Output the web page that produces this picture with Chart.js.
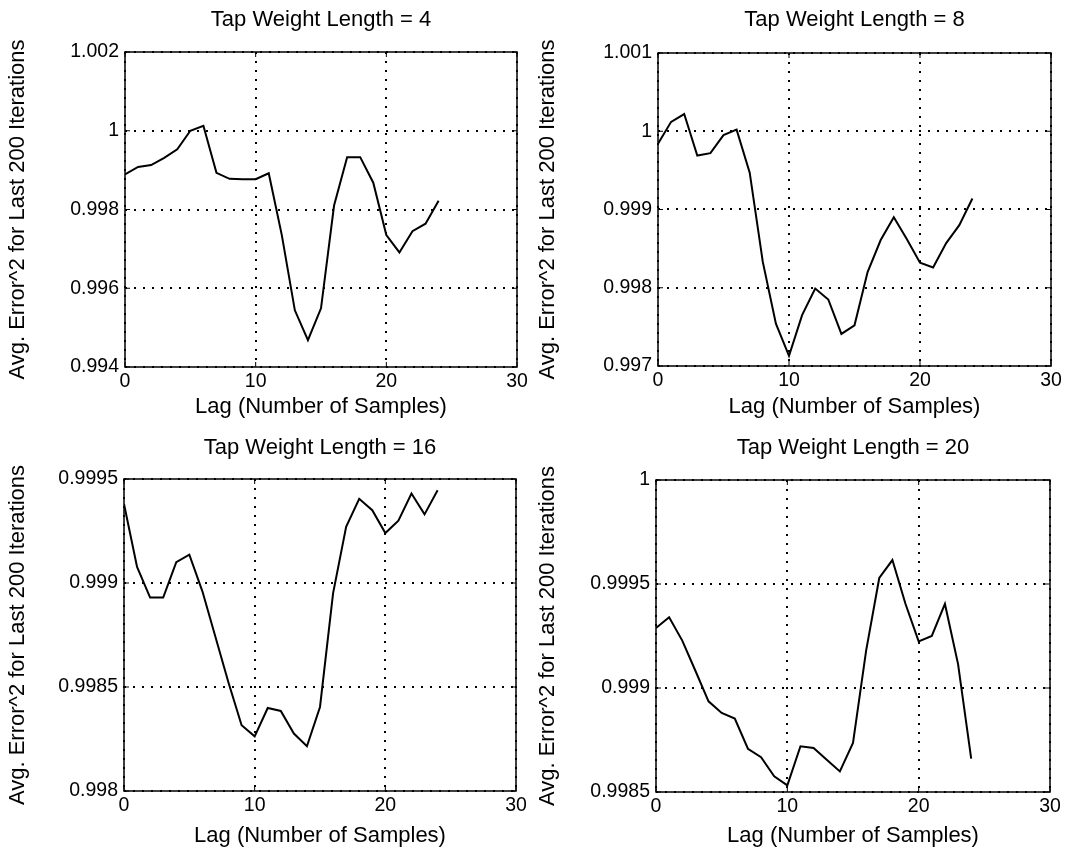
<!DOCTYPE html>
<html>
<head>
<meta charset="utf-8">
<script src="https://cdn.jsdelivr.net/npm/chart.js@4"></script>
<style>
  html, body { margin: 0; padding: 0; background: #fff; }
  #wrap { position: relative; width: 1070px; height: 861px; }
  canvas { position: absolute; }
</style>
</head>
<body>
<div id="wrap">
  <canvas id="c1"></canvas>
  <canvas id="c2"></canvas>
  <canvas id="c3"></canvas>
  <canvas id="c4"></canvas>
</div>
<script>
// lag values (number of samples)
const lags = [0, 1, 2, 3, 4, 5, 6, 7, 8, 9, 10, 11, 12, 13, 14, 15, 16, 17, 18, 19, 20, 21, 22, 23, 24];

// avg error^2 for last 200 iterations, per tap weight length
const err4 = [0.99889, 0.99908, 0.99913, 0.99931, 0.99953, 1.00000, 1.000125, 0.99893, 0.99878, 0.99877,
              0.99877, 0.99892, 0.99735, 0.99544, 0.99468, 0.99549, 0.99810, 0.99933, 0.99933, 0.99868,
              0.99735, 0.99691, 0.99745, 0.99764, 0.99822];
const err8 = [0.99984, 1.00012, 1.00022, 0.99969, 0.99972, 0.99995, 1.00002, 0.99947, 0.99833, 0.99754,
              0.99713, 0.99765, 0.99799, 0.99785, 0.99741, 0.99752, 0.99820, 0.99861, 0.99890, 0.99862,
              0.99832, 0.99826, 0.99857, 0.99880, 0.99914];
const err16 = [0.99938, 0.999077, 0.99893, 0.99893, 0.99910, 0.999136, 0.99896, 0.99874, 0.99852, 0.998316,
               0.998263, 0.998399, 0.998385, 0.998276, 0.998215, 0.998404, 0.99895, 0.99927, 0.999405, 0.99935,
               0.99924, 0.99930, 0.99943, 0.99933, 0.999446];
const err20 = [0.999288, 0.99934, 0.999228, 0.999083, 0.998936, 0.99888, 0.998853, 0.998708, 0.998667, 0.998575,
               0.998532, 0.99872, 0.998712, 0.998655, 0.998599, 0.998736, 0.99918, 0.999529, 0.999615, 0.999404,
               0.999224, 0.99925, 0.999404, 0.999115, 0.99866];

// tick values and labels
const xTicks = [0, 10, 20, 30];
const xLabels = ['0', '10', '20', '30'];
const yTicks4 = [0.994, 0.996, 0.998, 1, 1.002];
const yLabels4 = ['0.994', '0.996', '0.998', '1', '1.002'];
const yTicks8 = [0.997, 0.998, 0.999, 1, 1.001];
const yLabels8 = ['0.997', '0.998', '0.999', '1', '1.001'];
const yTicks16 = [0.998, 0.9985, 0.999, 0.9995];
const yLabels16 = ['0.998', '0.9985', '0.999', '0.9995'];
const yTicks20 = [0.9985, 0.999, 0.9995, 1];
const yLabels20 = ['0.9985', '0.999', '0.9995', '1'];

const titles = ['Tap Weight Length = 4', 'Tap Weight Length = 8', 'Tap Weight Length = 16', 'Tap Weight Length = 20'];
const xTitle = 'Lag (Number of Samples)';
const yTitle = 'Avg. Error^2 for Last 200 Iterations';

const FONT = "'Liberation Sans', Arial, Helvetica, sans-serif";

// draws the box around the plot and the small inward tick marks
const boxPlugin = {
    id: 'box',
    afterDraw(chart) {
        const {ctx, chartArea: a, scales} = chart;
        ctx.save();
        ctx.strokeStyle = '#000';
        ctx.lineWidth = 1.5;
        ctx.strokeRect(a.left, a.top, a.right - a.left, a.bottom - a.top);
        ctx.lineWidth = 1;
        ctx.beginPath();
        scales.x.ticks.forEach(t => {
            const px = scales.x.getPixelForValue(t.value);
            ctx.moveTo(px, a.bottom); ctx.lineTo(px, a.bottom - 5);
            ctx.moveTo(px, a.top); ctx.lineTo(px, a.top + 5);
        });
        scales.y.ticks.forEach(t => {
            const py = scales.y.getPixelForValue(t.value);
            ctx.moveTo(a.left, py); ctx.lineTo(a.left + 5, py);
            ctx.moveTo(a.right, py); ctx.lineTo(a.right - 5, py);
        });
        ctx.stroke();
        ctx.restore();
    }
};

function makePanel(id, pos, title, values, yTicks, yLabels) {
    const canvas = document.getElementById(id);
    canvas.width = pos.w;
    canvas.height = pos.h;
    canvas.style.left = pos.left + 'px';
    canvas.style.top = pos.top + 'px';

    const grid = {
        color: '#000',
        lineWidth: 2,
        drawTicks: false
    };
    // in v4 the dash of the grid lines lives under border
    const border = { display: false, dash: [2, 7] };

    return new Chart(canvas, {
        type: 'line',
        data: {
            datasets: [{
                data: lags.map((l, i) => ({x: l, y: values[i]})),
                borderColor: '#000',
                borderWidth: 2,
                pointRadius: 0,
                tension: 0,
                fill: false
            }]
        },
        options: {
            responsive: false,
            animation: false,
            devicePixelRatio: 1,
            layout: { padding: { left: 0, right: pos.padRight, top: 0, bottom: 0 } },
            plugins: {
                legend: { display: false },
                tooltip: { enabled: false },
                title: {
                    display: true,
                    text: title,
                    color: '#000',
                    fullSize: false,
                    font: { family: FONT, size: 22, weight: 'normal' },
                    padding: { top: pos.titleTop, bottom: pos.titleBottom }
                }
            },
            scales: {
                x: {
                    type: 'linear',
                    min: 0,
                    max: 30,
                    grid: grid,
                    border: border,
                    afterBuildTicks: s => { s.ticks = xTicks.map(v => ({value: v})); },
                    afterFit: s => { s.height = pos.xHeight; },
                    ticks: {
                        color: '#000',
                        padding: 3,
                        maxRotation: 0,
                        font: { family: FONT, size: 19.5 },
                        callback: (v, i) => xLabels[i]
                    },
                    title: {
                        display: true,
                        text: xTitle,
                        color: '#000',
                        font: { family: FONT, size: 22 },
                        padding: { top: 0, bottom: pos.xTitlePad }
                    }
                },
                y: {
                    type: 'linear',
                    min: yTicks[0],
                    max: yTicks[yTicks.length - 1],
                    grid: grid,
                    border: border,
                    afterBuildTicks: s => { s.ticks = yTicks.map(v => ({value: v})); },
                    afterFit: s => { s.width = pos.yWidth; },
                    ticks: {
                        color: '#000',
                        padding: 6,
                        font: { family: FONT, size: 19.5 },
                        callback: (v, i) => yLabels[i]
                    },
                    title: {
                        display: true,
                        text: yTitle,
                        color: '#000',
                        font: { family: FONT, size: 22 },
                        padding: { top: pos.yTitlePad, bottom: 0 }
                    }
                }
            }
        },
        plugins: [boxPlugin]
    });
}

makePanel('c1', {left: 0, top: 0, w: 535, h: 425, yWidth: 125, padRight: 18, titleTop: 7, titleBottom: 18.6, xHeight: 58, xTitlePad: 5, yTitlePad: 5},
          titles[0], err4, yTicks4, yLabels4);
makePanel('c2', {left: 535, top: 0, w: 535, h: 425, yWidth: 123, padRight: 19, titleTop: 7, titleBottom: 19.6, xHeight: 59, xTitlePad: 5, yTitlePad: 0},
          titles[1], err8, yTicks8, yLabels8);
makePanel('c3', {left: 0, top: 428, w: 535, h: 433, yWidth: 124, padRight: 19, titleTop: 7, titleBottom: 17.6, xHeight: 70, xTitlePad: 12, yTitlePad: 5},
          titles[2], err16, yTicks16, yLabels16);
makePanel('c4', {left: 535, top: 428, w: 535, h: 433, yWidth: 121, padRight: 20, titleTop: 7, titleBottom: 18.6, xHeight: 69, xTitlePad: 12, yTitlePad: 0},
          titles[3], err20, yTicks20, yLabels20);
</script>
</body>
</html>
